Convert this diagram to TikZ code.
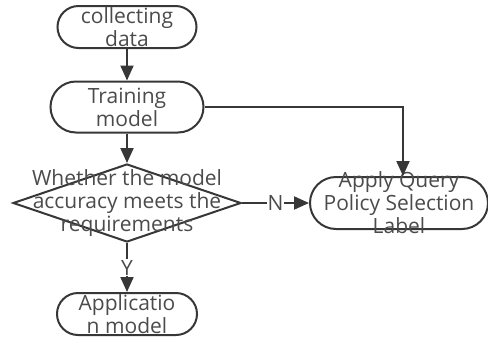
\documentclass[tikz,border=0pt]{standalone}
\usepackage{fontspec}
\setmainfont{Open Sans}
\usetikzlibrary{
  arrows.meta,
  positioning,
  shapes.geometric,
  shapes.misc,
}
\definecolor{linegray}{RGB}{55,55,55}
\definecolor{textgray}{RGB}{75,75,75}
\tikzstyle{flowarrow} = [
  -{Triangle[length=15pt,width=13pt]},
  line width=2pt,
  linegray,
  font=\fontsize{21}{23}\selectfont,
  text=textgray,
]
\tikzstyle{term} = [
  rounded rectangle,
  draw=linegray,
  line width=2pt,
  inner sep=0pt,
]
\tikzstyle{decide} = [
  diamond,
  draw=linegray,
  line width=2pt,
  inner sep=0pt,
]

\begin{document}
\begin{tikzpicture}[every label/.append style={text=textgray,align=center,font=\fontsize{21}{23}\selectfont}]
\useasboundingbox (0pt,0pt) rectangle (488pt,-338pt);

			\node[term,minimum width=139pt,minimum height=42pt,label={center:collecting\\data}] (collect) at (127pt,-27pt) {};
			\node[term,minimum width=153pt,minimum height=51pt,label={center:Training\\model},node distance=80pt] (train) [below of=collect] {};
			\node[decide,minimum width=228pt,minimum height=78pt,label={center:Whether the model\\accuracy meets the\\requirements},node distance=96pt] (check) [below of=train] {};
			\node[term,minimum width=140pt,minimum height=42pt,label={center:Applicatio\\n model},node distance=111pt] (app) [below of=check] {};
			\node[term,minimum width=178pt,minimum height=52pt,label={center:Apply Query\\Policy Selection\\Label},node distance=272pt] (policy) [right of=check] {};

			\draw[flowarrow] (collect) -- (train);
			\draw[flowarrow] (train) -- (check);
			\draw[flowarrow] (check) -- node[fill=white,inner sep=1pt] {Y} (app);
			\draw[flowarrow] (check) -- node[fill=white,inner sep=1pt] {N} (policy);
			\draw[flowarrow] (train.east) -| ([xshift=4pt]policy.north);
\end{tikzpicture}
\end{document}
